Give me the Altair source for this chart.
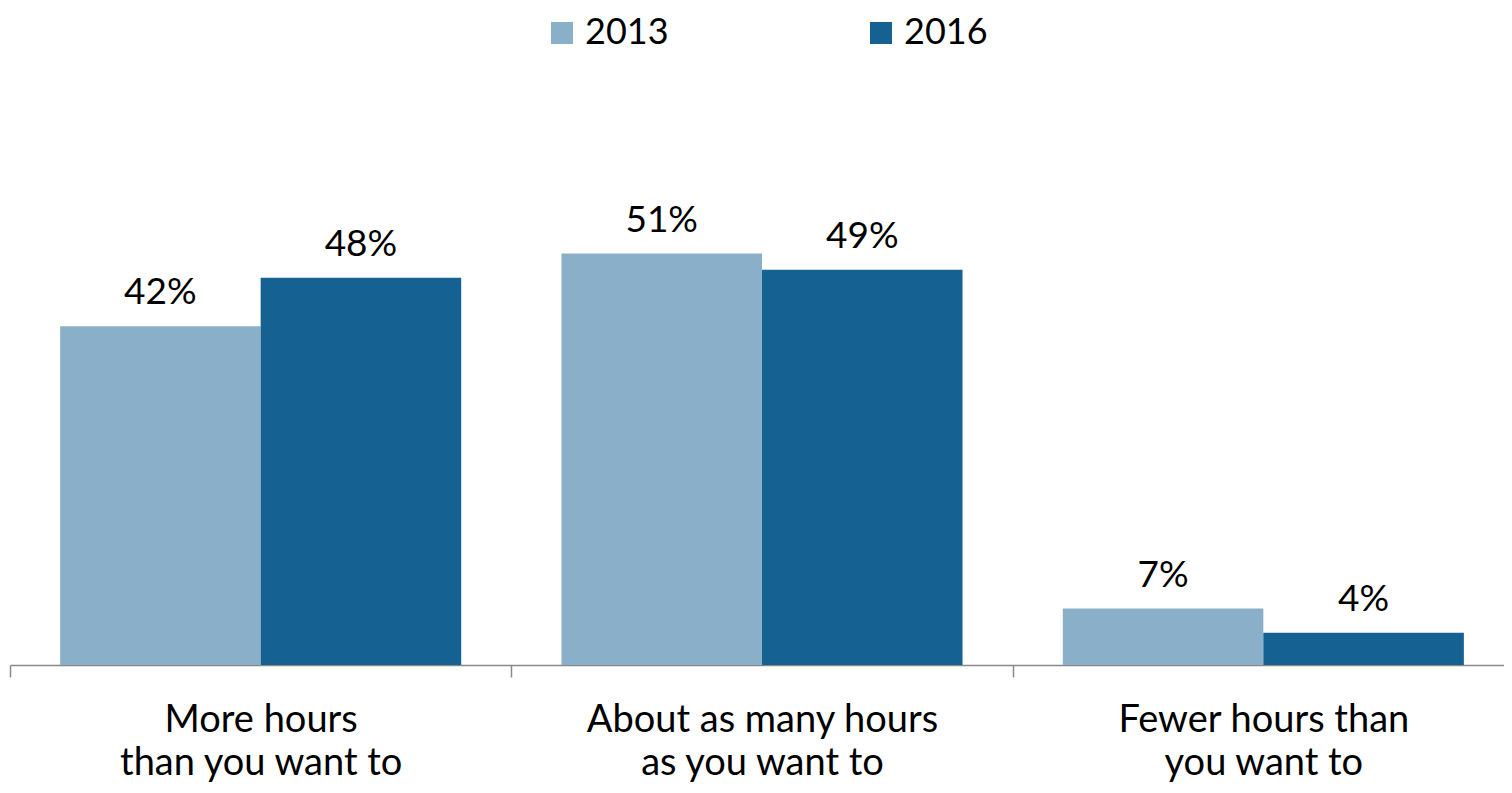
import altair as alt
import pandas as pd

categories = ["More hours|than you want to", "About as many hours|as you want to", "Fewer hours than|you want to"]
years = ["2013", "2016"]
values_2013 = [42, 51, 7]
values_2016 = [48, 49, 4]

rows = []
for c, a, b in zip(categories, values_2013, values_2016):
    rows.append({"category": c, "year": "2013", "value": a, "label": f"{a}%"})
    rows.append({"category": c, "year": "2016", "value": b, "label": f"{b}%"})
df = pd.DataFrame(rows)

FONT = "Lato"
W = 1494
RANGE_W = 1504
STEP = RANGE_W / 3

x = alt.X("category:N", sort=categories, title=None,
          scale=alt.Scale(paddingInner=0.2, paddingOuter=0.1, range=[0, RANGE_W]),
          axis=alt.Axis(labelExpr="split(datum.label, '|')", labelAngle=0, labelLimit=0,
                        labelFontSize=38, labelFont=FONT, labelColor="#000000",
                        labelLineHeight=43, labelPadding=24,
                        tickOffset=-STEP / 2, labelOffset=STEP / 2,
                        tickSize=12, tickColor="#898989",
                        domainColor="#898989", domainWidth=1.5, tickWidth=1.5))
y = alt.Y("value:Q", scale=alt.Scale(domain=[0, 60], nice=False), axis=None)
xo = alt.XOffset("year:N", sort=years)

bars = alt.Chart(df).mark_bar().encode(
    x=x, y=y, xOffset=xo,
    color=alt.Color("year:N", sort=years,
                    scale=alt.Scale(domain=years, range=["#8AAFC8", "#156192"]),
                    legend=alt.Legend(title=None, orient="none", direction="horizontal",
                                      legendX=534, legendY=-166, padding=0,
                                      symbolType="square", symbolSize=484,
                                      symbolStrokeWidth=0, symbolOpacity=1,
                                      labelFontSize=36, labelFont=FONT, labelColor="#000000",
                                      labelOffset=5, columnPadding=194)),
)

text = alt.Chart(df).mark_text(font=FONT, fontSize=37, baseline="alphabetic", dy=-22,
                               color="#000000").encode(
    x=x, y=y, xOffset=xo, text="label:N")

chart = (bars + text).properties(
    width=W, height=484,
    padding={"left": 2, "top": 173, "right": 0, "bottom": 120},
    autosize=alt.AutoSizeParams(type="none"),
).configure_view(stroke=None).configure_axis(grid=False)

chart.save("out.html", embed_options={"renderer": "svg", "actions": False})
